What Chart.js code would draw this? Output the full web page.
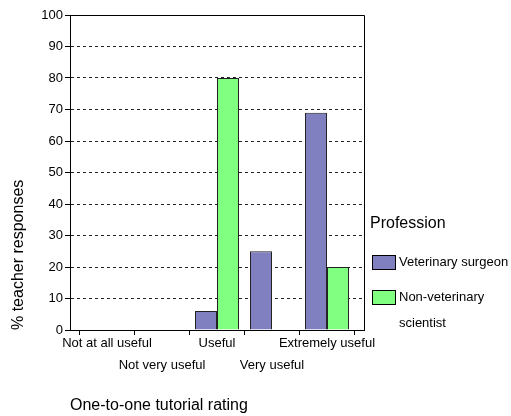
<!DOCTYPE html>
<html>
<head>
<meta charset="utf-8">
<script src="https://cdn.jsdelivr.net/npm/chart.js@4/dist/chart.umd.min.js"></script>
<style>
  html, body { margin: 0; padding: 0; background: #fff; }
  #wrap { width: 511px; height: 416px; }
</style>
</head>
<body>
<div id="wrap"><canvas id="ratingChart"></canvas></div>
<script>
const categories = ['Not at all useful', 'Not very useful', 'Useful', 'Very useful', 'Extremely useful'];
const vetSurgeon = [0, 0, 6, 25, 69];
const nonVetScientist = [0, 0, 80, 0, 20];
const yTicks = [0, 10, 20, 30, 40, 50, 60, 70, 80, 90, 100];

const FONT = "'Liberation Sans', Arial, sans-serif";

// frame on top/right + the legend on the right side
const extras = {
    id: 'extras',
    afterDraw(chart) {
        const ctx = chart.ctx;
        const a = chart.chartArea;
        ctx.save();
        ctx.strokeStyle = '#000';
        ctx.lineWidth = 1;
        ctx.beginPath();
        ctx.moveTo(a.left, a.top + 0.5);
        ctx.lineTo(a.right + 0.5, a.top + 0.5);
        ctx.lineTo(a.right + 0.5, a.bottom);
        ctx.stroke();

        ctx.fillStyle = '#000';
        ctx.textBaseline = 'middle';
        ctx.font = '16px ' + FONT;
        ctx.fillText('Profession', 370, 224);

        const items = [
            { ds: chart.data.datasets[0], y: 255, lines: ['Veterinary surgeon'] },
            { ds: chart.data.datasets[1], y: 290, lines: ['Non-veterinary', 'scientist'] }
        ];
        ctx.font = '13px ' + FONT;
        items.forEach(function (it) {
            ctx.fillStyle = it.ds.backgroundColor;
            ctx.fillRect(372, it.y, 23, 14);
            ctx.strokeStyle = '#000';
            ctx.strokeRect(372.5, it.y + 0.5, 23, 14);
            ctx.fillStyle = '#000';
            it.lines.forEach(function (line, i) {
                ctx.fillText(line, 399, it.y + 7 + i * 26);
            });
        });
        ctx.restore();
    }
};

const ctx = document.getElementById('ratingChart').getContext('2d');
const ratingChart = new Chart(ctx, {
    type: 'bar',
    data: {
        datasets: [{
            label: 'Veterinary surgeon',
            data: vetSurgeon.map((v, i) => ({ x: i, y: v })),
            backgroundColor: '#8080c0',
            borderColor: '#222',
            borderWidth: 1,
            categoryPercentage: 0.8,
            barPercentage: 1.0
        }, {
            label: 'Non-veterinary scientist',
            data: nonVetScientist.map((v, i) => ({ x: i, y: v })),
            backgroundColor: '#80ff80',
            borderColor: '#222',
            borderWidth: 1,
            categoryPercentage: 0.8,
            barPercentage: 1.0
        }]
    },
    options: {
        responsive: true,
        maintainAspectRatio: false,
        animation: false,
        layout: { padding: { top: 15, right: 147, left: 0, bottom: 0 } },
        plugins: {
            legend: { display: false },
            tooltip: { enabled: false }
        },
        scales: {
            x: {
                type: 'linear',
                offset: false,
                min: -0.673,
                max: 4.673,
                afterBuildTicks: function (scale) {
                    scale.ticks = categories.map((c, i) => ({ value: i }));
                },
                afterFit: function (scale) { scale.height = 86; },
                grid: { drawOnChartArea: false, drawTicks: true, tickLength: 5, tickColor: '#000' },
                border: { color: '#000', width: 1 },
                ticks: {
                    color: '#000',
                    padding: -3,
                    maxRotation: 0,
                    autoSkip: false,
                    font: { family: FONT, size: 13, lineHeight: 1.7 },
                    callback: function (value) {
                        const label = categories[value];
                        return value % 2 === 1 ? ['', label] : label;
                    }
                },
                title: {
                    display: true,
                    text: 'One-to-one tutorial rating',
                    align: 'start',
                    color: '#000',
                    font: { family: FONT, size: 16 },
                    padding: { top: 0, bottom: 1 }
                }
            },
            y: {
                min: 0,
                max: 100,
                afterBuildTicks: function (scale) {
                    scale.ticks = yTicks.map(v => ({ value: v }));
                },
                afterFit: function (scale) { scale.width = 70; },
                grid: { color: '#222', tickColor: '#000', tickLength: 5, lineWidth: 1 },
                border: { color: '#000', width: 1, dash: [3, 3] },
                ticks: {
                    color: '#000',
                    padding: 2,
                    font: { family: FONT, size: 13 }
                },
                title: {
                    display: true,
                    text: '% teacher responses',
                    align: 'start',
                    color: '#000',
                    font: { family: FONT, size: 16 },
                    padding: { top: 9, bottom: 0 }
                }
            }
        }
    },
    plugins: [extras]
});
</script>
</body>
</html>
